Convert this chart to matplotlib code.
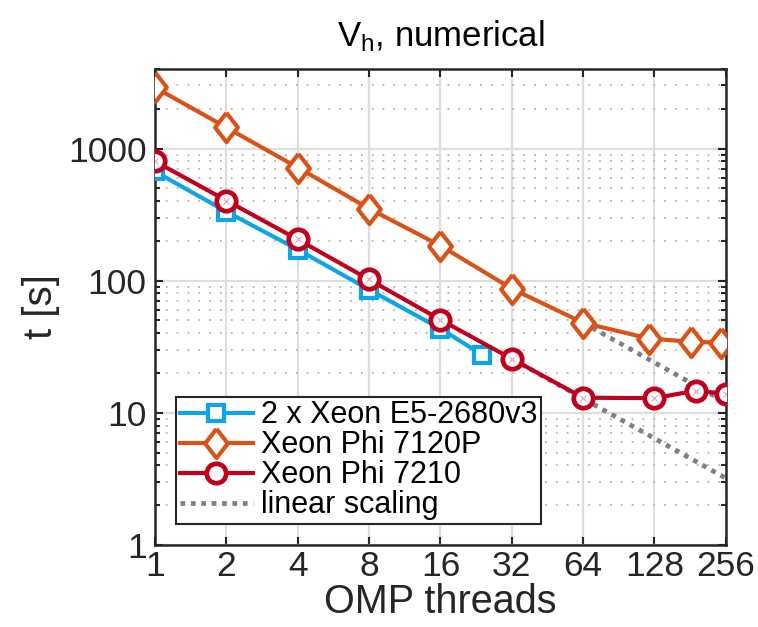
import matplotlib
matplotlib.use('Agg')
import matplotlib.pyplot as plt
from matplotlib.ticker import NullLocator, FixedLocator, LogLocator

plt.rcParams['font.family'] = ['Liberation Sans Narrow', 'Liberation Sans', 'DejaVu Sans']
plt.rcParams['mathtext.default'] = 'regular'

# Данные
threads_xeon = [1, 2, 4, 8, 16, 24]
t_xeon = [670, 333, 172, 85.5, 43.3, 27.5]

threads_knc = [1, 2, 4, 8, 16, 32, 64, 122, 183, 244]
t_knc = [2900, 1443, 718, 351, 184, 87, 48, 36.4, 34.5, 33.9]

threads_knl = [1, 2, 4, 8, 16, 32, 64, 128, 192, 256]
t_knl = [800, 404, 205, 102, 50.6, 25.6, 13.0, 12.9, 14.7, 13.9]

# линейное масштабирование от последних "хороших" точек
lin_knc_x = [64, 256]
lin_knc_y = [48, 12]
lin_knl_x = [32, 256]
lin_knl_y = [25.6, 3.2]

xticks = [1, 2, 4, 8, 16, 32, 64, 128, 256]

c_blue = '#0ea5e6'
c_orange = '#d95319'
c_red = '#c0001d'
c_gray = '#7f7f7f'
c_axis = '#262626'

fig = plt.figure(figsize=(7.58, 6.27), dpi=100)
ax = fig.add_axes([0.2045, 0.131, 0.753, 0.759])

ax.plot(lin_knc_x, lin_knc_y, linestyle=(0, (1, 1.2)), color=c_gray, linewidth=3.4, zorder=2,
        label='linear scaling')
ax.plot(lin_knl_x, lin_knl_y, linestyle=(0, (1, 1.2)), color=c_gray, linewidth=3.4, zorder=2)

diamond = [(0, 1), (0.78, 0), (0, -1), (-0.78, 0), (0, 1)]

l1, = ax.plot(threads_xeon, t_xeon, color=c_blue, linewidth=3.0, marker='s', markersize=11,
              markerfacecolor='white', markeredgewidth=3.0, zorder=3, label='2 x Xeon E5-2680v3')
l2, = ax.plot(threads_knc, t_knc, color=c_orange, linewidth=3.0, marker=diamond, markersize=21,
              markerfacecolor='white', markeredgewidth=3.0, zorder=3, label='Xeon Phi 7120P')
l3, = ax.plot(threads_knl, t_knl, color=c_red, linewidth=3.0, marker='o', markersize=14,
              markerfacecolor='white', markeredgewidth=3.4, zorder=4, label='Xeon Phi 7210')
ax.plot(threads_knl, t_knl, linestyle='none', marker='x', markersize=5, color='#f0a0b0',
        markeredgewidth=0.8, zorder=5)

ax.set_xscale('log', base=2)
ax.set_yscale('log')
ax.set_xlim(1, 256)
ax.set_ylim(1, 4000)

ax.xaxis.set_major_locator(FixedLocator(xticks))
ax.xaxis.set_minor_locator(NullLocator())
ax.set_xticklabels([str(v) for v in xticks])
ax.yaxis.set_major_locator(FixedLocator([1, 10, 100, 1000]))
ax.yaxis.set_minor_locator(LogLocator(base=10, subs=range(2, 10)))
ax.set_yticklabels(['1', '10', '100', '1000'])

ax.grid(True, which='major', color='#dedede', linestyle='-', linewidth=1.6, zorder=0)
ax.grid(True, which='minor', axis='y', color='#b4b4b4', linestyle=(0, (1, 5)), linewidth=1.3, zorder=0)
ax.set_axisbelow(True)

ax.tick_params(which='both', direction='in', top=True, right=True, colors=c_axis,
               labelsize=25.5, width=1.5)
ax.tick_params(which='major', length=6, pad=4)
ax.tick_params(axis='y', which='major', pad=6)
ax.tick_params(which='minor', length=3.5)
for s in ax.spines.values():
    s.set_linewidth(1.8)
    s.set_color(c_axis)

ax.set_xlabel('OMP threads', fontsize=28.5, color=c_axis, labelpad=0)
ax.set_ylabel('t [s]', fontsize=29, color=c_axis, labelpad=6)
ax.set_title('V$_h$, numerical', fontsize=25, color='black', pad=16)

leg = ax.legend(handles=[l1, l2, l3, ax.lines[0]], loc='lower left', bbox_to_anchor=(0.037, 0.044),
                fontsize=22, frameon=True, fancybox=False, borderpad=0.12, labelspacing=0.0,
                handlelength=2.4, handletextpad=0.25, borderaxespad=0)
leg.get_frame().set_edgecolor(c_axis)
leg.get_frame().set_linewidth(1.5)
leg.get_frame().set_alpha(1)

fig.savefig('out.png', dpi=100)
